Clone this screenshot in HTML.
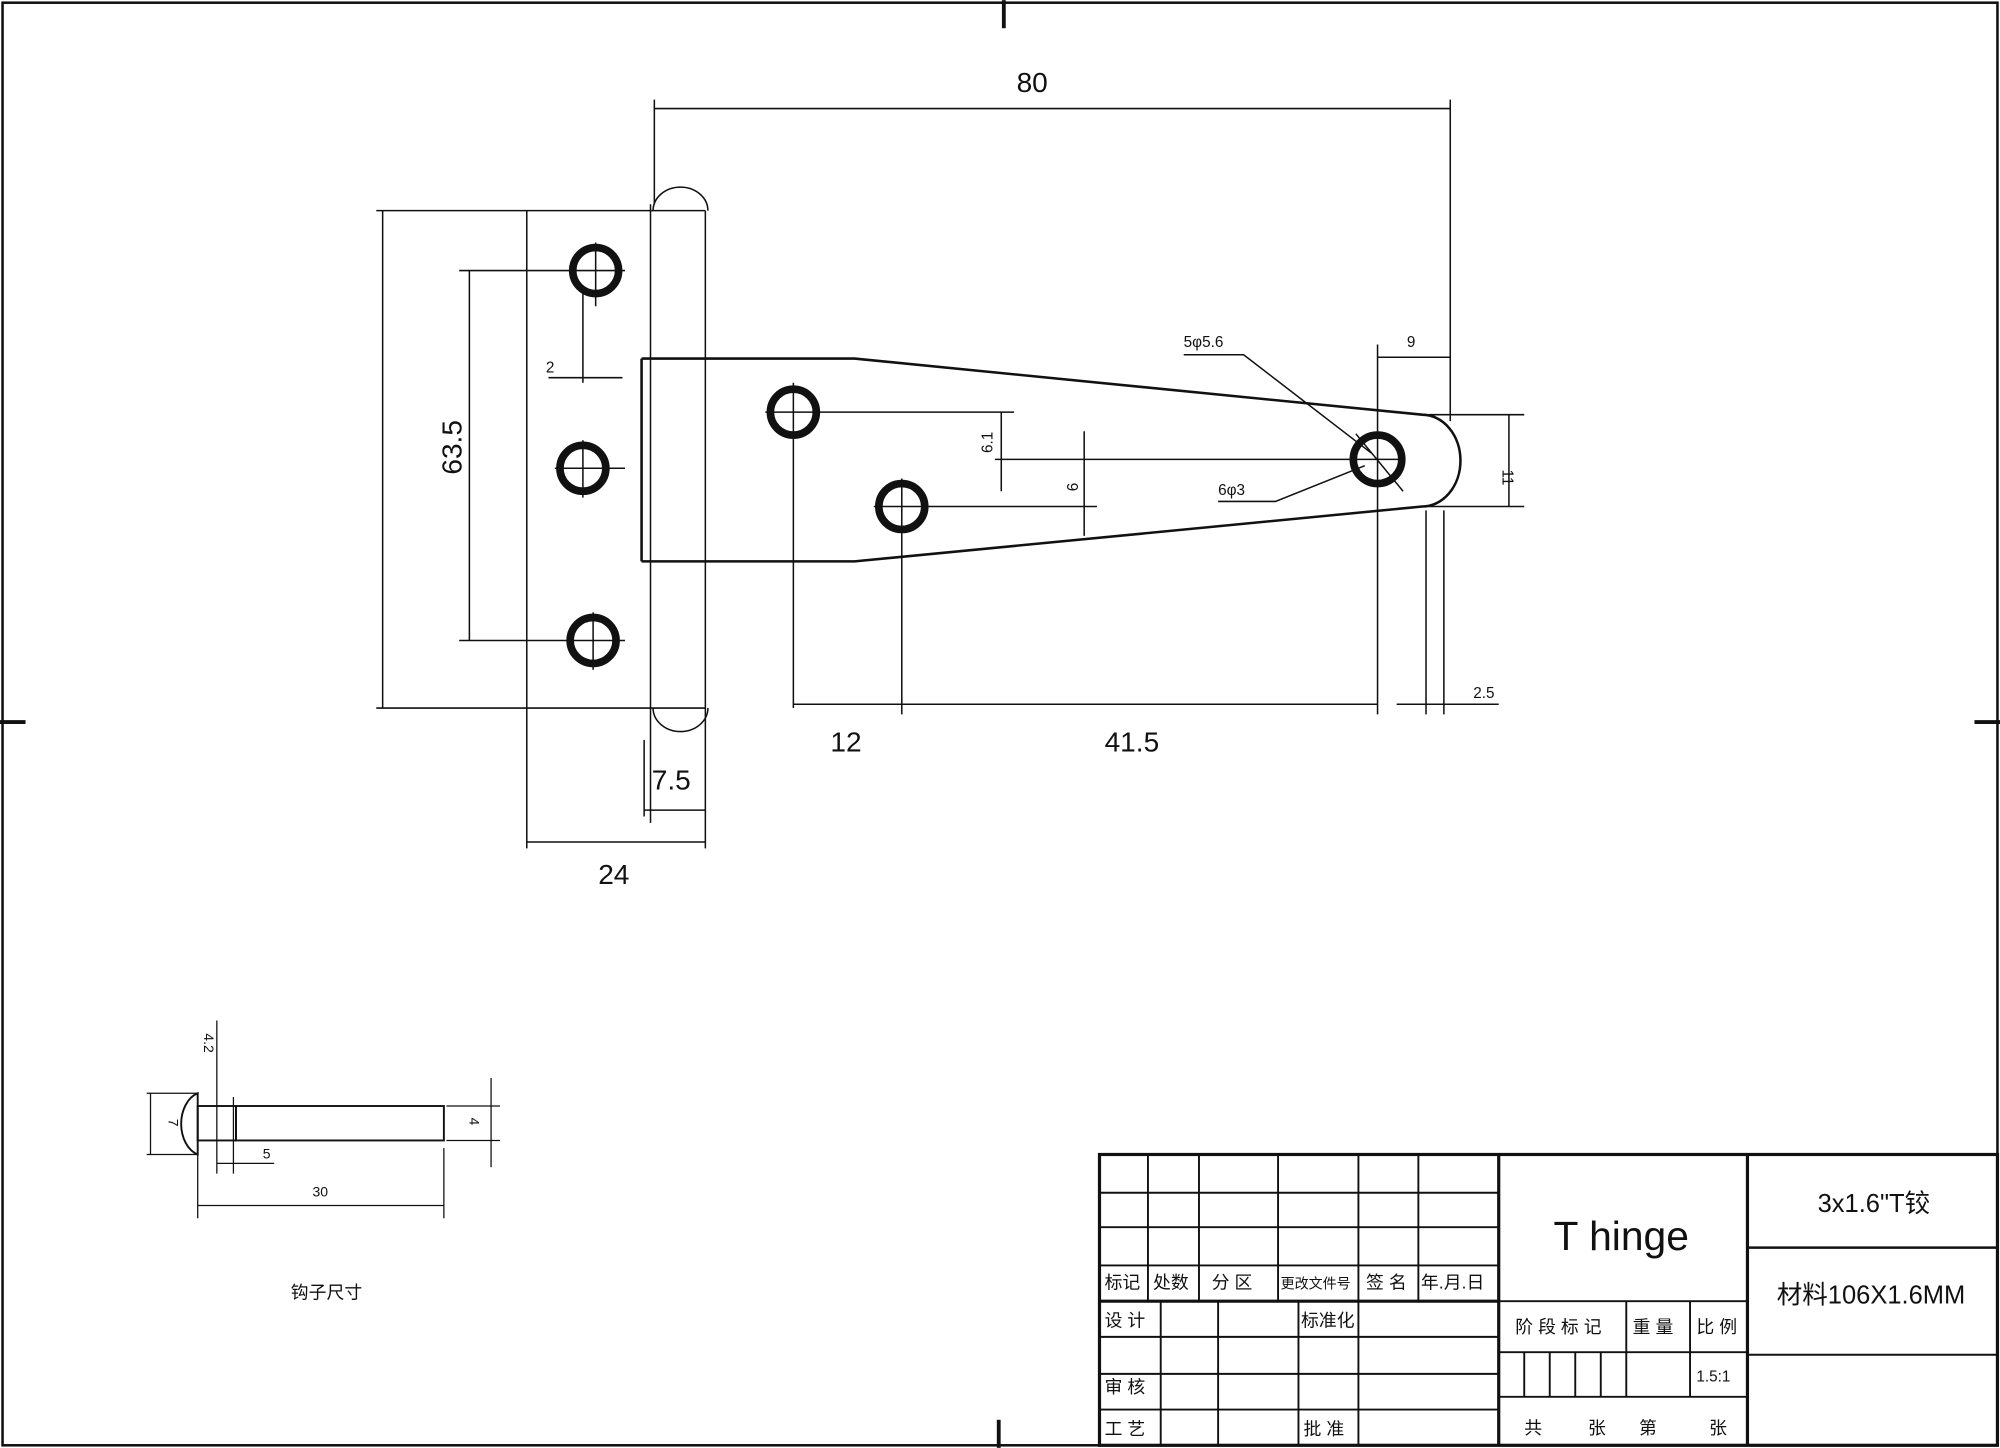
<!DOCTYPE html>
<html><head><meta charset="utf-8"><style>
html,body{margin:0;padding:0;background:#fff;}
svg{display:block;}
text{font-family:"Liberation Sans","Noto Sans CJK SC",sans-serif;fill:#111;}
.s{font-family:"Liberation Serif","Noto Serif CJK SC",serif;}
</style></head><body>
<svg width="2000" height="1448" viewBox="0 0 1568 1135" xmlns="http://www.w3.org/2000/svg">
<rect width="1568" height="1135" fill="#fff"/>
<g stroke="#111" fill="none" stroke-width="1.2">
<rect x="2" y="2" width="1564" height="1131" stroke-width="2"/>
<line x1="787" y1="0" x2="787" y2="22" stroke-width="3"/>
<line x1="783" y1="1113" x2="783" y2="1135" stroke-width="3"/>
<line x1="0" y1="566" x2="20" y2="566" stroke-width="3"/>
<line x1="1548" y1="566" x2="1568" y2="566" stroke-width="3"/>

<line x1="413" y1="165" x2="413" y2="665"/>
<line x1="553" y1="165" x2="553" y2="665"/>
<line x1="510" y1="160" x2="510" y2="645"/>
<line x1="295" y1="165" x2="553" y2="165"/>
<line x1="295" y1="555" x2="553" y2="555"/>
<path d="M512 165 A21 18 0 0 1 555 165"/>
<path d="M512 555 A21 18 0 0 0 555 555"/>
<line x1="300" y1="165" x2="300" y2="555"/>
<line x1="368" y1="212" x2="368" y2="502"/>
<line x1="360" y1="212" x2="490" y2="212"/>
<line x1="360" y1="502" x2="490" y2="502"/>
<line x1="435" y1="367" x2="490" y2="367"/>
<line x1="457" y1="230" x2="457" y2="300"/>
<line x1="430" y1="296" x2="488" y2="296"/>
<line x1="467" y1="190" x2="467" y2="240"/>
<line x1="465" y1="480" x2="465" y2="525"/>
<line x1="457" y1="345" x2="457" y2="390"/>

<path d="M503 281 L670 281 L1115 325 A30 36 0 0 1 1115 397 L670 440 L503 440" stroke-width="2"/>
<line x1="503" y1="281" x2="503" y2="440" stroke-width="2"/>

<line x1="600" y1="323" x2="795" y2="323"/>
<line x1="685" y1="397" x2="860" y2="397"/>
<line x1="780" y1="360" x2="1100" y2="360"/>
<line x1="622" y1="300" x2="622" y2="555"/>
<line x1="707" y1="375" x2="707" y2="560"/>
<line x1="1080" y1="270" x2="1080" y2="560"/>
<line x1="785" y1="323" x2="785" y2="385"/>
<line x1="850" y1="338" x2="850" y2="420"/>

<line x1="513" y1="85" x2="1137" y2="85"/>
<line x1="513" y1="78" x2="513" y2="160"/>
<line x1="1137" y1="78" x2="1137" y2="330"/>
<line x1="1080" y1="280" x2="1137" y2="280"/>
<line x1="1183" y1="325" x2="1183" y2="397"/>
<line x1="1120" y1="325" x2="1195" y2="325"/>
<line x1="1120" y1="397" x2="1195" y2="397"/>
<line x1="622" y1="552" x2="1080" y2="552"/>
<line x1="1095" y1="552" x2="1175" y2="552"/>
<line x1="1118" y1="400" x2="1118" y2="560"/>
<line x1="1132" y1="400" x2="1132" y2="560"/>
<line x1="505" y1="635" x2="553" y2="635"/>
<line x1="505" y1="580" x2="505" y2="640"/>
<line x1="413" y1="660" x2="553" y2="660"/>
<polyline points="928,278 975,278 1075,355"/>
<polyline points="955,393 1000,393 1070,365"/>
<line x1="1063" y1="340" x2="1100" y2="385"/>
</g>
<g stroke="#111" fill="none" stroke-width="6">
<circle cx="467" cy="212" r="18"/>
<circle cx="457" cy="367" r="18"/>
<circle cx="465" cy="502" r="18"/>
<circle cx="622" cy="323" r="18"/>
<circle cx="707" cy="397" r="18"/>
<circle cx="1080" cy="360" r="19"/>
</g>
<g font-size="22">
<text x="797" y="72">80</text>
<text x="651" y="589">12</text>
<text x="866" y="589">41.5</text>
<text x="511" y="619">7.5</text>
<text x="469" y="693">24</text>
<text x="0" y="0" transform="translate(362,372) rotate(-90)">63.5</text>
</g>
<g class="s" font-size="12">
<text x="1103" y="272">9</text>
<text x="928" y="272">5φ5.6</text>
<text x="955" y="388">6φ3</text>
<text x="1155" y="547">2.5</text>
<text x="428" y="292">2</text>
<text x="0" y="0" transform="translate(1178,368) rotate(90)">11</text>
<text x="0" y="0" transform="translate(778,355) rotate(-90)">6.1</text>
<text x="0" y="0" transform="translate(845,385) rotate(-90)">6</text>
</g>

<g stroke="#111" fill="none" stroke-width="1.5">
<path d="M155 857 A18 25 0 0 0 155 905 Z"/>
<rect x="155" y="867" width="30" height="27"/>
<rect x="185" y="867" width="163" height="27"/>
<line x1="118" y1="857" x2="118" y2="905" stroke-width="1"/>
<line x1="115" y1="857" x2="155" y2="857" stroke-width="1"/>
<line x1="115" y1="905" x2="155" y2="905" stroke-width="1"/>
<line x1="170" y1="800" x2="170" y2="920" stroke-width="1"/>
<line x1="183" y1="860" x2="183" y2="920" stroke-width="1"/>
<line x1="155" y1="900" x2="155" y2="955" stroke-width="1"/>
<line x1="348" y1="900" x2="348" y2="955" stroke-width="1"/>
<line x1="155" y1="945" x2="348" y2="945" stroke-width="1"/>
<line x1="170" y1="912" x2="215" y2="912" stroke-width="1"/>
<line x1="385" y1="845" x2="385" y2="915" stroke-width="1"/>
<line x1="350" y1="867" x2="392" y2="867" stroke-width="1"/>
<line x1="350" y1="894" x2="392" y2="894" stroke-width="1"/>
</g>
<g class="s" font-size="11">
<text x="0" y="0" transform="translate(160,810) rotate(90)">4.2</text>
<text x="0" y="0" transform="translate(132,877) rotate(90)">7</text>
<text x="0" y="0" transform="translate(368,876) rotate(90)">4</text>
<text x="206" y="908">5</text>
<text x="245" y="938">30</text>
<text x="228" y="1018" font-size="14">钩子尺寸</text>
</g>

<g stroke="#111" fill="none" stroke-width="1.5">
<rect x="862" y="905" width="704" height="228" stroke-width="2.5"/>
<line x1="1175" y1="905" x2="1175" y2="1133" stroke-width="2.5"/>
<line x1="1370" y1="905" x2="1370" y2="1133" stroke-width="2.5"/>
<line x1="1370" y1="978" x2="1566" y2="978" stroke-width="2"/>
<line x1="1370" y1="1062" x2="1566" y2="1062"/>
<line x1="1175" y1="1020" x2="1370" y2="1020"/>
<line x1="1175" y1="1060" x2="1370" y2="1060"/>
<line x1="1175" y1="1095" x2="1370" y2="1095"/>
<line x1="1275" y1="1020" x2="1275" y2="1095"/>
<line x1="1325" y1="1020" x2="1325" y2="1095"/>
<line x1="1195" y1="1060" x2="1195" y2="1095"/>
<line x1="1215" y1="1060" x2="1215" y2="1095"/>
<line x1="1235" y1="1060" x2="1235" y2="1095"/>
<line x1="1255" y1="1060" x2="1255" y2="1095"/>
<line x1="862" y1="935" x2="1175" y2="935"/>
<line x1="862" y1="962" x2="1175" y2="962"/>
<line x1="862" y1="992" x2="1175" y2="992"/>
<line x1="862" y1="1020" x2="1175" y2="1020" stroke-width="2.5"/>
<line x1="862" y1="1048" x2="1175" y2="1048"/>
<line x1="862" y1="1077" x2="1175" y2="1077"/>
<line x1="862" y1="1105" x2="1175" y2="1105"/>
<line x1="900" y1="905" x2="900" y2="1020"/>
<line x1="940" y1="905" x2="940" y2="1020"/>
<line x1="1002" y1="905" x2="1002" y2="1020"/>
<line x1="1065" y1="905" x2="1065" y2="1020"/>
<line x1="1112" y1="905" x2="1112" y2="1020"/>
<line x1="910" y1="1020" x2="910" y2="1133"/>
<line x1="955" y1="1020" x2="955" y2="1133"/>
<line x1="1018" y1="1020" x2="1018" y2="1133"/>
<line x1="1065" y1="1020" x2="1065" y2="1133"/>
</g>
<text x="1218" y="980" font-size="32">T hinge</text>
<g class="s" font-size="14">
<text x="866" y="1010">标记</text><text x="904" y="1010">处数</text>
<text x="950" y="1010">分 区</text><text x="1004" y="1010" font-size="11">更改文件号</text>
<text x="1071" y="1010">签 名</text><text x="1114" y="1010">年.月.日</text>
<text x="866" y="1040">设 计</text><text x="1020" y="1040">标准化</text>
<text x="866" y="1092">审 核</text><text x="866" y="1125">工 艺</text>
<text x="1022" y="1125">批 准</text>
<text x="1188" y="1045">阶 段 标 记</text><text x="1280" y="1045">重 量</text>
<text x="1330" y="1045">比 例</text><text x="1330" y="1083" font-size="12">1.5:1</text>
<text x="1195" y="1124">共</text><text x="1245" y="1124">张</text>
<text x="1285" y="1124">第</text><text x="1340" y="1124">张</text>
<text x="1425" y="950" font-size="20">3x1.6"T铰</text>
<text x="1393" y="1022" font-size="20">材料106X1.6MM</text>
</g>
</svg>
</body></html>
